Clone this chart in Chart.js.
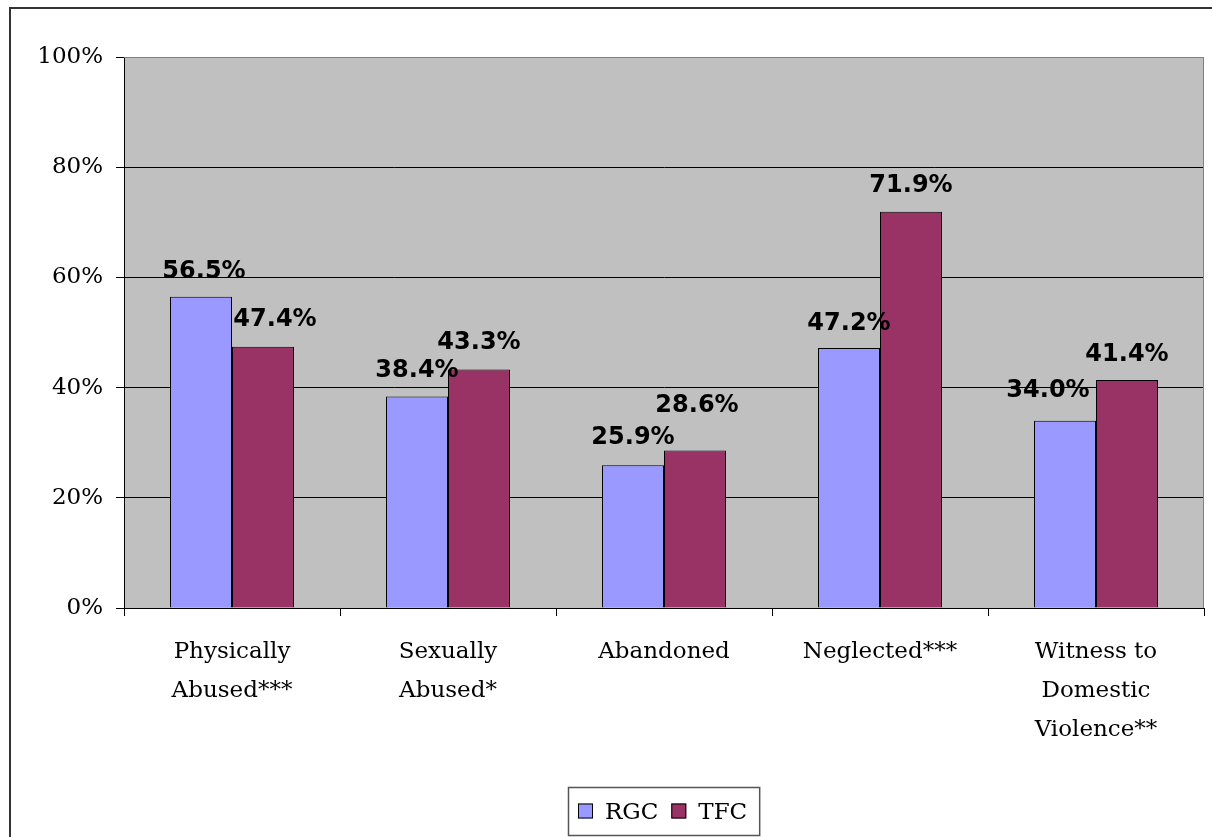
<!DOCTYPE html>
<html>
<head>
<meta charset="utf-8">
<title>Maltreatment history: RGC vs TFC</title>
<script src="https://cdn.jsdelivr.net/npm/chart.js@4/dist/chart.umd.min.js"></script>
<style>
  html, body { margin:0; padding:0; background:#fff; overflow:hidden; }
  #wrap { position:relative; width:1212px; height:837px; }
  #frame { position:absolute; left:9px; top:7px; width:1300px; height:1000px; border:2px solid #333; box-sizing:border-box; pointer-events:none; }
  #chart { position:absolute; left:0; top:0; }
</style>
</head>
<body>
<div id="wrap">
  <canvas id="chart" width="1212" height="837"></canvas>
  <div id="frame"></div>
</div>
<script>
// categories (multi-line tick labels)
const categories = [
  ['Physically', 'Abused***'],
  ['Sexually', 'Abused*'],
  ['Abandoned'],
  ['Neglected***'],
  ['Witness to', 'Domestic', 'Violence**']
];
// percentages per group
const rgc = [56.5, 38.4, 25.9, 47.2, 34.0];
const tfc = [47.4, 43.3, 28.6, 71.9, 41.4];
const yTicks = [0, 20, 40, 60, 80, 100];

// hand-placed label nudges [dx, baseline above bar top]
const rgcLabelNudge = [[3,19],[0,19],[0,21],[0,18],[-17,24]];
const tfcLabelNudge = [[12,21],[0,20],[2,38],[0,20],[0,19]];

const SERIF = '"DejaVu Serif", serif';
const SANS = '"DejaVu Sans", Verdana, sans-serif';

const plotBg = {
  id:'plotBg',
  beforeDraw(chart){
    const {ctx, chartArea:a} = chart;
    ctx.save();
    ctx.fillStyle = '#C0C0C0';
    ctx.fillRect(a.left, a.top, a.right - a.left, a.bottom - a.top);
    ctx.restore();
  },
  beforeDatasetsDraw(chart){
    const {ctx, chartArea:a} = chart;
    ctx.save();
    ctx.strokeStyle = '#808080';
    ctx.lineWidth = 1;
    ctx.beginPath();
    ctx.moveTo(a.left, a.top + 0.5);
    ctx.lineTo(a.right - 0.5, a.top + 0.5);
    ctx.lineTo(a.right - 0.5, a.bottom);
    ctx.stroke();
    ctx.restore();
  }
};

const valueLabels = {
  id:'valueLabels',
  afterDatasetsDraw(chart){
    const {ctx} = chart;
    const nudges = [rgcLabelNudge, tfcLabelNudge];
    ctx.save();
    ctx.font = 'bold 24px ' + SANS;
    ctx.fillStyle = '#000';
    ctx.textAlign = 'center';
    ctx.textBaseline = 'alphabetic';
    chart.data.datasets.forEach((ds, di) => {
      chart.getDatasetMeta(di).data.forEach((bar, i) => {
        const [dx, dy] = nudges[di][i];
        ctx.fillText(ds.data[i].toFixed(1) + '%', bar.x + dx, bar.y - dy);
      });
    });
    ctx.restore();
  }
};

// boxed legend centred under the plot
const boxLegend = {
  id:'boxLegend',
  afterDraw(chart){
    const {ctx, chartArea:a} = chart;
    const sq = 15, gapSq = 12, gapItem = 13, padL = 10, padR = 12, h = 48;
    ctx.save();
    ctx.font = '23px ' + SERIF;
    const items = chart.data.datasets.map(ds => ({ds, w: ctx.measureText(ds.label).width}));
    let total = padL + padR;
    items.forEach((it, i) => { total += sq + gapSq + it.w + (i ? gapItem : 0); });
    const x0 = Math.round((a.left + a.right) / 2 - total / 2);
    const y0 = a.bottom + 179;
    ctx.strokeStyle = '#555';
    ctx.lineWidth = 1.5;
    ctx.strokeRect(x0 + 0.5, y0 + 0.5, total, h);
    let x = x0 + padL;
    const cy = y0 + h / 2;
    items.forEach((it, i) => {
      if (i) x += gapItem;
      ctx.fillStyle = it.ds.backgroundColor;
      ctx.fillRect(x, cy - sq / 2, sq, sq);
      ctx.strokeStyle = '#000';
      ctx.lineWidth = 1;
      ctx.strokeRect(x + 0.5, cy - sq / 2 + 0.5, sq - 1, sq - 1);
      x += sq + gapSq;
      ctx.fillStyle = '#000';
      ctx.textBaseline = 'alphabetic';
      ctx.textAlign = 'left';
      ctx.fillText(it.ds.label, x, cy + 8);
      x += it.w;
    });
    ctx.restore();
  }
};

new Chart(document.getElementById('chart'), {
  type:'bar',
  data:{
    labels: categories,
    datasets:[
      { label:'RGC', data:rgc, backgroundColor:'#9999FF', borderColor:'#000', borderWidth:1,
        categoryPercentage:0.574, barPercentage:1 },
      { label:'TFC', data:tfc, backgroundColor:'#993366', borderColor:'#000', borderWidth:1,
        categoryPercentage:0.574, barPercentage:1 }
    ]
  },
  options:{
    responsive:false,
    animation:false,
    devicePixelRatio:1,
    layout:{ padding:{ top:57, right:8, bottom:0, left:0 } },
    plugins:{ legend:{ display:false }, tooltip:{ enabled:false } },
    scales:{
      x:{
        grid:{ display:true, drawOnChartArea:false, color:'#000', tickLength:8, offset:true },
        border:{ display:true, color:'#000', width:1 },
        ticks:{ font:{ family:SERIF, size:23, lineHeight:1.68 }, color:'#000', padding:17, maxRotation:0, autoSkip:false },
        afterFit(scale){ scale.height = 229; }
      },
      y:{
        min:0, max:100,
        afterBuildTicks(scale){ scale.ticks = yTicks.map(v => ({value:v})); },
        grid:{ color: c => c.tick && c.tick.value === 100 ? '#808080' : '#000', tickLength:8, tickColor:'#000' },
        border:{ display:true, color:'#000', width:1 },
        ticks:{ font:{ family:SERIF, size:23 }, color:'#000', padding:13, callback: v => v + '%' },
        afterFit(scale){ scale.width = 124; }
      }
    }
  },
  plugins:[plotBg, valueLabels, boxLegend]
});
</script>
</body>
</html>
